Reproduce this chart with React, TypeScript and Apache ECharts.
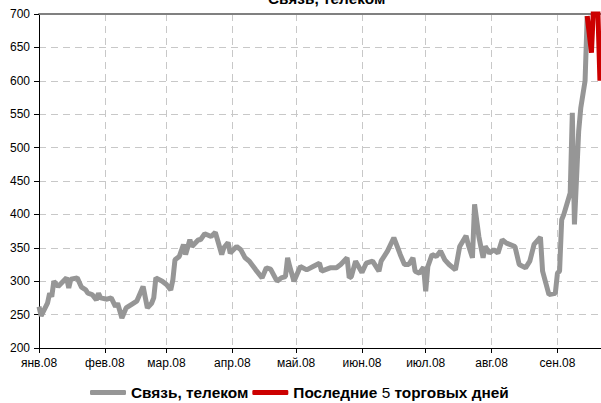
import React, { useEffect, useRef } from "react";
import * as echarts from "echarts";

// Day of year 2008 (0 = 1 Jan) for month starts, and their labels
const monthDays = [0, 31, 60, 91, 121, 152, 182, 213, 244];
const monthLabels = ["янв.08", "фев.08", "мар.08", "апр.08", "май.08", "июн.08", "июл.08", "авг.08", "сен.08"];

// Main series: "Связь, телеком" (day of year, value)
const days = [
  0, 1, 4, 5, 6, 7, 9, 13, 14, 15, 18, 20, 22, 23, 25, 27, 28, 29, 32, 34, 36, 37, 39, 41, 44, 46, 49, 51, 53, 54,
  55, 58, 60, 62, 63, 64, 66, 68, 69, 71, 72, 75, 76, 78, 81, 83, 84, 86, 87, 89, 90, 93, 95, 97, 99, 102, 105, 107,
  109, 112, 114, 116, 117, 118, 120, 123, 126, 129, 132, 133, 137, 140, 142, 145, 146, 147, 149, 152, 154, 157, 160,
  161, 164, 167, 168, 170, 172, 174, 176, 177, 179, 181, 182, 183, 185, 187, 189, 191, 193, 196, 198, 201, 202, 204,
  205, 207, 209, 210, 212, 214, 216, 218, 220, 224, 226, 229, 231, 233, 236, 237, 240, 243, 244, 245, 246, 247, 250,
  251, 252, 254, 255, 257, 258,
];
const values = [
  262, 248, 267, 282, 277, 300, 292, 305, 290, 303, 305, 291, 287, 282, 280, 272, 282, 275, 273, 275, 262, 267, 245,
  260, 266, 270, 292, 260, 267, 275, 305, 300, 295, 287, 302, 332, 337, 355, 340, 362, 352, 362, 362, 371, 367, 373,
  362, 340, 350, 358, 342, 352, 347, 335, 330, 317, 305, 320, 318, 300, 305, 307, 335, 322, 300, 322, 317, 322, 327,
  315, 320, 320, 325, 335, 305, 307, 330, 313, 327, 330, 315, 330, 345, 365, 357, 340, 325, 325, 335, 315, 312, 321,
  285, 322, 340, 337, 345, 332, 325, 317, 352, 368, 355, 335, 415, 367, 335, 352, 342, 347, 342, 362, 357, 352, 325,
  320, 330, 355, 366, 315, 280, 282, 312, 315, 392, 400, 432, 552, 385, 525, 560, 600, 697,
];

// Last 5 trading days
const recentDays = [258, 260, 261, 263, 264];
const recentValues = [697, 642, 712, 708, 600];

const mainName = "Связь, телеком";
const recentName = "Последние 5 торговых дней";

const FONT = "'Liberation Sans', Arial, sans-serif";

export default function App() {
  const ref = useRef<HTMLDivElement>(null);

  useEffect(() => {
    if (!ref.current) return;
    const chart = echarts.init(ref.current, undefined, { renderer: "svg" });
    const dash = { color: "#c8c8c8", type: [7, 5] as any, width: 1 };
    chart.setOption({
      animation: false,
      backgroundColor: "#ffffff",
      title: {
        text: mainName,
        left: 268,
        top: -9,
        padding: 0,
        textStyle: { fontFamily: FONT, fontSize: 15.4, fontWeight: "bold", color: "#000" },
      },
      legend: {
        left: 90,
        top: 385,
        padding: 0,
        icon: "roundRect",
        itemWidth: 36,
        itemHeight: 5,
        itemGap: 4,
        data: [mainName, recentName],
        formatter: (name: string) => (name === recentName ? "Последние {n|5} торговых дней" : name),
        textStyle: {
          fontFamily: FONT,
          fontSize: 15.4,
          fontWeight: "bold",
          color: "#000",
          rich: { n: { fontFamily: FONT, fontSize: 15.4, fontWeight: "normal", color: "#000" } },
        },
      },
      grid: { left: 39, right: 0, top: 14, bottom: 55, containLabel: false, outerBoundsMode: "none" } as any,
      xAxis: [
        {
          type: "value",
          min: 0,
          max: 264.5,
          axisLine: { show: true, onZero: false, lineStyle: { color: "#000", width: 1 } },
          axisTick: { show: true, length: 5, customValues: monthDays, lineStyle: { color: "#000" } },
          axisLabel: {
            customValues: monthDays,
            margin: 9,
            fontFamily: FONT,
            fontSize: 12,
            color: "#000",
            formatter: (v: number) => {
              const i = monthDays.indexOf(Math.round(v));
              return i >= 0 ? monthLabels[i] : "";
            },
          },
          splitLine: { show: true, lineStyle: dash },
        },
        {
          type: "value",
          position: "top",
          min: 0,
          max: 264.5,
          axisLine: { show: true, onZero: false, lineStyle: { color: "#808080", width: 2 } },
          axisTick: { show: false },
          axisLabel: { show: false },
          splitLine: { show: false },
        },
      ],
      yAxis: {
        type: "value",
        min: 200,
        max: 700,
        interval: 50,
        axisLine: { show: true, onZero: false, lineStyle: { color: "#000", width: 1 } },
        axisTick: { show: true, length: 5, lineStyle: { color: "#000" } },
        axisLabel: { margin: 9, fontFamily: FONT, fontSize: 12, color: "#000" },
        splitLine: { show: true, lineStyle: dash },
      },
      series: [
        {
          name: mainName,
          type: "line",
          data: days.map((d, i) => [d, values[i]]),
          showSymbol: false,
          symbol: "none",
          color: "#969696",
          lineStyle: { color: "#969696", width: 5 },
          z: 2,
        },
        {
          name: recentName,
          type: "line",
          data: recentDays.map((d, i) => [d, recentValues[i]]),
          showSymbol: false,
          symbol: "none",
          color: "#cc0000",
          lineStyle: { color: "#cc0000", width: 5 },
          z: 3,
        },
      ],
    });
    return () => chart.dispose();
  }, []);

  return (
    <div
      ref={ref}
      style={{ position: "fixed", left: 0, top: 0, width: 601, height: 403, background: "#fff" }}
    />
  );
}
